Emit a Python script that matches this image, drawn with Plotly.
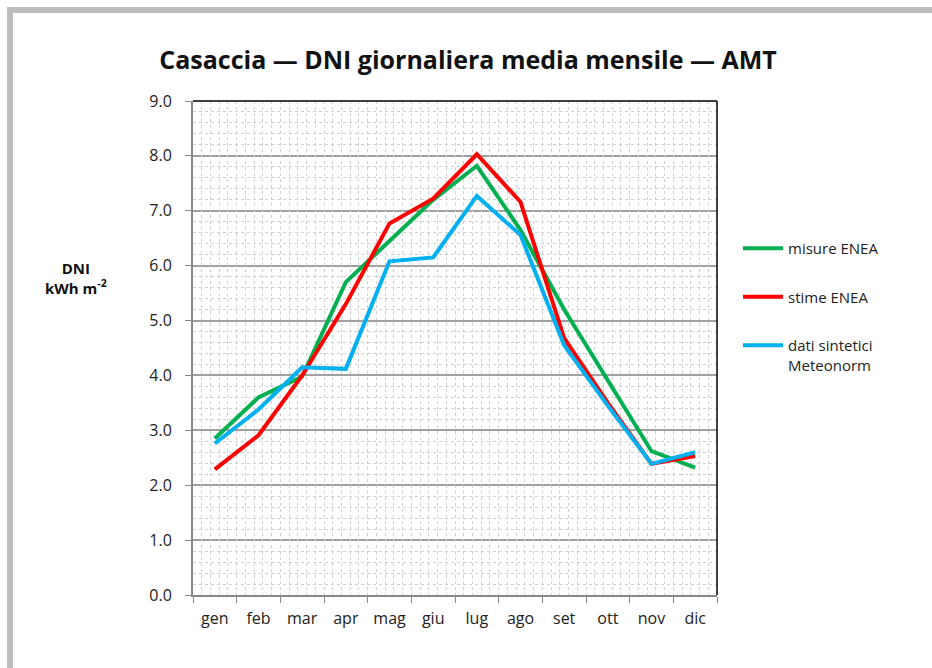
import plotly.graph_objects as go

months = ["gen", "feb", "mar", "apr", "mag", "giu", "lug", "ago", "set", "ott", "nov", "dic"]
misure_enea = [2.85, 3.6, 3.98, 5.7, 6.45, 7.2, 7.82, 6.65, 5.2, 3.9, 2.62, 2.32]
stime_enea = [2.29, 2.91, 4.0, 5.3, 6.77, 7.22, 8.03, 7.16, 4.68, 3.5, 2.39, 2.53]
meteonorm = [2.76, 3.38, 4.15, 4.12, 6.08, 6.15, 7.27, 6.56, 4.55, 3.45, 2.39, 2.6]
series_names = ["misure ENEA", "stime ENEA", "dati sintetici<br>Meteonorm"]
series_colors = ["#00b050", "#ff0000", "#00b0f0"]
y_ticks = [0, 1, 2, 3, 4, 5, 6, 7, 8, 9]

W, H = 932, 668
L, R, T, B = 193, 717, 101, 595

fig = go.Figure()
for i, (name, vals, col) in enumerate(zip(series_names, [misure_enea, stime_enea, meteonorm], series_colors)):
    fig.add_trace(go.Scatter(x=months, y=vals, mode="lines", name=name,
                             line=dict(color=col, width=4), legendgroup=str(i)))

# dummy trace for minor vertical grid axis
fig.add_trace(go.Scatter(x=[-0.5, 11.5], y=[0, 0], xaxis="x2", mode="lines",
                         line=dict(width=0), showlegend=False, hoverinfo="skip"))

def px_x(p):
    return (p - L) / (R - L)

def px_y(p):
    return (B - p) / (B - T)

fig.update_layout(
    width=W, height=H,
    margin=dict(l=L, r=W - R, t=T, b=H - B),
    paper_bgcolor="white", plot_bgcolor="white",
    font=dict(family="Open Sans", color="#222"),
    title=dict(text="<b>Casaccia — DNI giornaliera media mensile — AMT</b>",
               x=468 / W, xref="container", xanchor="center", y=1 - 60 / H, yanchor="middle",
               font=dict(size=25, color="#111", family="Open Sans")),
    showlegend=True,
    legend=dict(x=px_x(738), y=px_y(232), xanchor="left", yanchor="top",
                font=dict(size=15, color="#222"), tracegroupgap=26, valign="top",
                itemwidth=40, bgcolor="rgba(0,0,0,0)"),
    xaxis=dict(type="category", categoryorder="array", categoryarray=months,
               range=[-0.5, 11.5], tickson="boundaries", ticks="outside", ticklen=6,
               tickcolor="#888", showline=True, linecolor="#888", linewidth=2,
               ticklabelstandoff=8,
               showgrid=False, zeroline=False, tickfont=dict(size=16, color="#222")),
    xaxis2=dict(overlaying="x", range=[-0.5, 11.5], tick0=-0.5, dtick=0.2,
                showgrid=True, gridcolor="#d0d0d0", griddash="dot", gridwidth=1,
                showticklabels=False, ticks="", showline=False, zeroline=False),
    yaxis=dict(range=[0, 9], tickvals=y_ticks, ticktext=[f"{v:.1f}" for v in y_ticks],
               ticks="outside", ticklen=6, tickcolor="#888",
               showline=True, linecolor="#888", linewidth=2, ticklabelstandoff=10,
               showgrid=True, gridcolor="#a0a0a0", gridwidth=2, zeroline=False,
               tickfont=dict(size=16, color="#222"),
               minor=dict(dtick=0.2, showgrid=True, gridcolor="#d0d0d0", griddash="dot", gridwidth=1)),
    annotations=[dict(text="<b>DNI<br>kWh m<sup>-2</sup></b>", x=px_x(76), y=px_y(278),
                      xref="paper", yref="paper", xanchor="center", yanchor="middle",
                      showarrow=False, align="center",
                      font=dict(size=15, color="#111"))],
    shapes=[
        dict(type="line", xref="paper", yref="paper", x0=0, x1=1, y0=1, y1=1,
             line=dict(color="#000", width=1.5)),
        dict(type="line", xref="paper", yref="paper", x0=1, x1=1, y0=0, y1=1,
             line=dict(color="#000", width=1.5)),
        dict(type="line", xref="paper", yref="paper", x0=px_x(10), x1=px_x(10), y0=px_y(10), y1=px_y(700),
             line=dict(color="#bdbdbd", width=6)),
        dict(type="line", xref="paper", yref="paper", x0=px_x(7), x1=px_x(960), y0=px_y(10), y1=px_y(10),
             line=dict(color="#bdbdbd", width=6)),
    ],
)

fig.write_html("out.html", config={"displayModeBar": False},
               post_script="document.body.style.margin='0';document.body.style.overflow='hidden';")
